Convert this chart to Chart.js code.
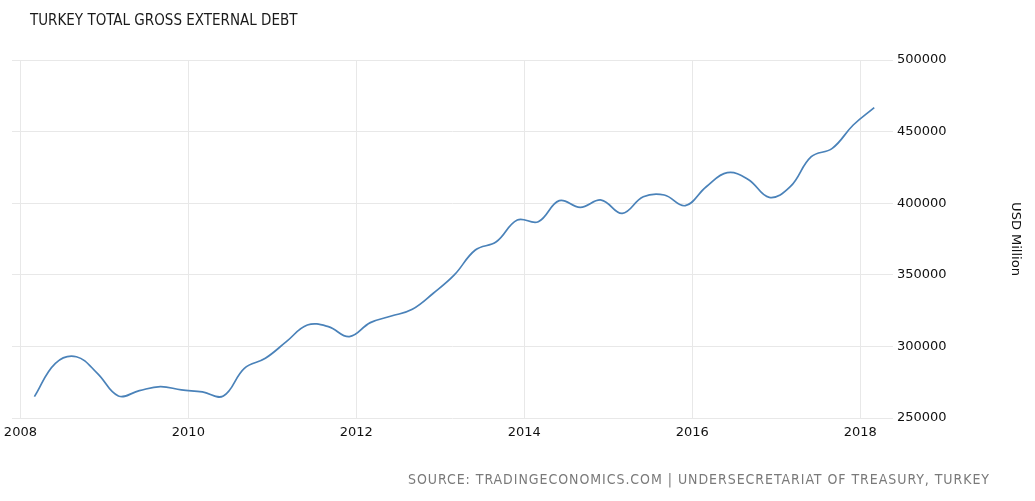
<!DOCTYPE html>
<html>
<head>
<meta charset="utf-8">
<script src="https://cdn.jsdelivr.net/npm/chart.js@4"></script>
<style>
  html, body { margin: 0; padding: 0; background: #fff; }
  #wrap { position: relative; width: 1035px; height: 501px; }
  #title {
    position: absolute; left: 30px; top: 11px;
    font: 15px "DejaVu Sans Condensed", "DejaVu Sans", sans-serif;
    color: #1a1a1a;
  }
  #source {
    position: absolute; right: 45px; top: 471px;
    font: 14px "DejaVu Sans Condensed", "DejaVu Sans", sans-serif;
    letter-spacing: 0.95px;
    color: #7a7a7a;
  }
</style>
</head>
<body>
<div id="wrap">
  <canvas id="chart" width="1035" height="501"></canvas>
  <div id="title">TURKEY TOTAL GROSS EXTERNAL DEBT</div>
  <div id="source">SOURCE: TRADINGECONOMICS.COM | UNDERSECRETARIAT OF TREASURY, TURKEY</div>
</div>
<script>
// quarterly readings, USD million
const quarters = [
  "2008-03", "2008-06", "2008-09", "2008-12",
  "2009-03", "2009-06", "2009-09", "2009-12",
  "2010-03", "2010-06", "2010-09", "2010-12",
  "2011-03", "2011-06", "2011-09", "2011-12",
  "2012-03", "2012-06", "2012-09", "2012-12",
  "2013-03", "2013-06", "2013-09", "2013-12",
  "2014-03", "2014-06", "2014-09", "2014-12",
  "2015-03", "2015-06", "2015-09", "2015-12",
  "2016-03", "2016-06", "2016-09", "2016-12",
  "2017-03", "2017-06", "2017-09", "2017-12",
  "2018-03",
];

const debt = [
  264900, 288200, 292800, 281200,
  265400, 269100, 271900, 269600,
  268200, 265400, 284700, 291700,
  303300, 314900, 313800, 306800,
  316600, 321200, 325900, 337100,
  349900, 367300, 373100, 388300,
  387100, 401800, 397100, 402200,
  392900, 404500, 405700, 398300,
  411500, 421300, 416600, 404100,
  411500, 432500, 438300, 454600,
  466700,
];

const yearTicks = [2008, 2010, 2012, 2014, 2016, 2018];
const valueTicks = [250000, 300000, 350000, 400000, 450000, 500000];

const toYear = (label) => {
  const [y, m] = label.split("-").map(Number);
  return y + (m - 1) / 12;
};

const points = quarters.map((q, i) => ({ x: toYear(q), y: debt[i] }));

const gridColor = "#e8e8e8";
const tickFont = { family: "DejaVu Sans", size: 13 };

new Chart(document.getElementById("chart"), {
  type: "line",
  data: {
    datasets: [
      {
        data: points,
        borderColor: "#4a82b9",
        borderWidth: 1.7,
        pointRadius: 0,
        tension: 0.4,
        fill: false,
      },
    ],
  },
  options: {
    responsive: false,
    animation: false,
    layout: { padding: { left: 12, top: 60, right: 0, bottom: 60 } },
    plugins: {
      legend: { display: false },
      tooltip: { enabled: false },
    },
    scales: {
      x: {
        type: "linear",
        min: 2007.9,
        max: 2018.39,
        afterBuildTicks: (scale) => {
          scale.ticks = yearTicks.map((v) => ({ value: v }));
        },
        afterFit: (scale) => {
          scale.height = 23;
          scale.paddingLeft = 0;
          scale.paddingRight = 0;
        },
        border: { display: false },
        grid: { color: gridColor, drawTicks: false },
        ticks: {
          color: "#111",
          font: tickFont,
          padding: 7,
          maxRotation: 0,
          callback: (v) => String(v),
        },
      },
      y: {
        position: "right",
        min: 250000,
        max: 500000,
        afterBuildTicks: (scale) => {
          scale.ticks = valueTicks.map((v) => ({ value: v }));
        },
        afterFit: (scale) => {
          scale.width = 142;
        },
        border: { display: false },
        grid: { color: gridColor, drawTicks: false },
        ticks: {
          color: "#111",
          font: tickFont,
          padding: 4,
          callback: (v) => String(v),
        },
        title: {
          display: true,
          text: "USD Million",
          color: "#111",
          font: tickFont,
          padding: { top: 12, bottom: 0 },
        },
      },
    },
  },
});
</script>
</body>
</html>
